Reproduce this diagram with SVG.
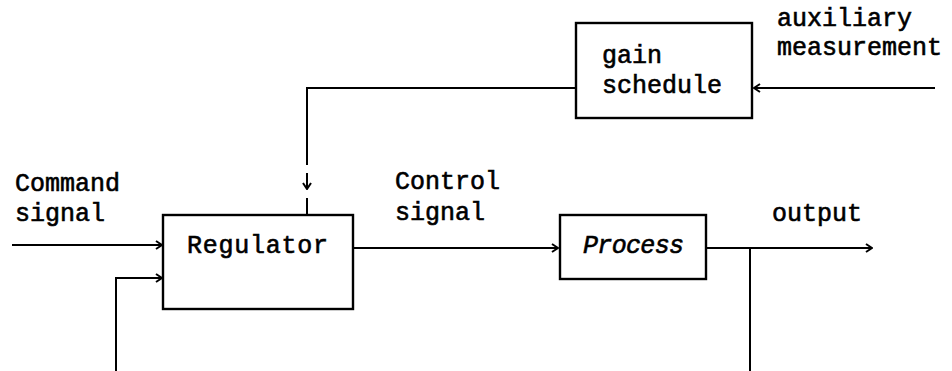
<svg xmlns="http://www.w3.org/2000/svg" width="952" height="371" viewBox="0 0 952 371">
  <style>
    .box { fill: none; stroke: #000; stroke-width: 2.4; }
    .wire { fill: none; stroke: #000; stroke-width: 2; }
    .lbl { font-family: "Liberation Mono", "Courier New", monospace; font-size: 25px; fill: #000; stroke: #000; stroke-width: 0.6; }
    .it { font-style: italic; }
  </style>
  <defs>
    <marker id="head" viewBox="0 0 10 10" refX="9" refY="5" markerWidth="10" markerHeight="10" markerUnits="userSpaceOnUse" orient="auto">
      <path d="M3,1 L9,5 L3,9" fill="none" stroke="#000" stroke-width="2"/>
    </marker>
  </defs>
  <rect width="952" height="371" fill="#fff"/>

  <g id="gain-schedule">
    <rect class="box" x="576" y="23" width="176" height="95"/>
    <text class="lbl" x="602" y="63">gain</text>
    <text class="lbl" x="602" y="93">schedule</text>
  </g>

  <g id="regulator">
    <rect class="box" x="163" y="215" width="190" height="94"/>
    <text class="lbl" x="187" y="253" textLength="141">Regulator</text>
  </g>

  <g id="process">
    <rect class="box" x="560" y="215" width="146" height="64"/>
    <text class="lbl it" x="583" y="253" textLength="101">Process</text>
  </g>

  <g id="labels">
    <text class="lbl" x="777" y="26">auxiliary</text>
    <text class="lbl" x="777" y="55">measurement</text>
    <text class="lbl" x="15" y="191">Command</text>
    <text class="lbl" x="15" y="221">signal</text>
    <text class="lbl" x="395" y="189">Control</text>
    <text class="lbl" x="395" y="220">signal</text>
    <text class="lbl" x="772" y="221">output</text>
  </g>

  <g id="connectors">
    <!-- auxiliary measurement into gain schedule -->
    <line class="wire" x1="935" y1="88" x2="754" y2="88" marker-end="url(#head)"/>
    <!-- gain schedule to regulator, broken around the arrow -->
    <polyline class="wire" points="576,88 307,88 307,165"/>
    <line class="wire" x1="307" y1="173" x2="307" y2="189" marker-end="url(#head)"/>
    <line class="wire" x1="307" y1="198" x2="307" y2="215"/>
    <!-- command signal into regulator -->
    <line class="wire" x1="12" y1="245" x2="162" y2="245" marker-end="url(#head)"/>
    <!-- feedback into regulator -->
    <polyline class="wire" points="116,371 116,278 162,278" marker-end="url(#head)"/>
    <!-- control signal -->
    <line class="wire" x1="353" y1="248" x2="558" y2="248" marker-end="url(#head)"/>
    <!-- output with feedback take-off -->
    <line class="wire" x1="706" y1="248" x2="872" y2="248" marker-end="url(#head)"/>
    <line class="wire" x1="750" y1="248" x2="750" y2="371"/>
  </g>
</svg>
